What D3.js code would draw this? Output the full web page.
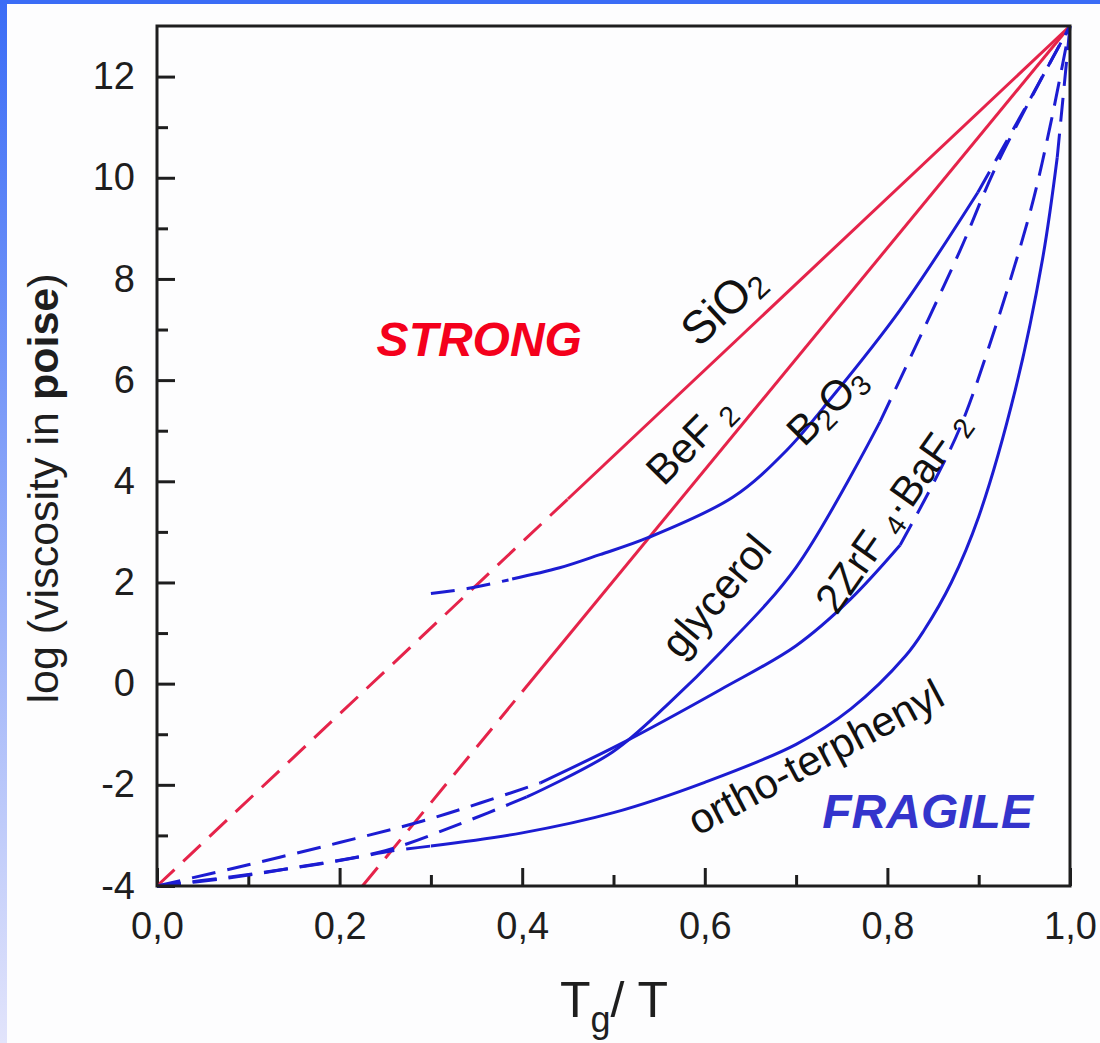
<!DOCTYPE html>
<html>
<head>
<meta charset="utf-8">
<script src="https://cdn.jsdelivr.net/npm/d3@7"></script>
<style>
  html, body { margin: 0; padding: 0; background: #ffffff; }
  svg { display: block; }
</style>
</head>
<body>
<svg id="chart" width="1100" height="1043"></svg>
<script>
// ---- tick values ----
const xMajorTicks = [0, 0.2, 0.4, 0.6, 0.8, 1.0];
const xMinorTicks = [0.1, 0.3, 0.5, 0.7, 0.9];
const yMajorTicks = [-4, -2, 0, 2, 4, 6, 8, 10, 12];
const yMinorTicks = [-3, -1, 1, 3, 5, 7, 9, 11];

// ---- strong liquids: straight Arrhenius lines ----
const sio2Extrap   = [[0, -4], [0.45, 3.65]];
const sio2Measured = [[0.45, 3.65], [1.0, 13]];
const bef2Extrap   = [[0.225, -4], [0.40, -0.16]];
const bef2Measured = [[0.40, -0.16], [1.0, 13]];

// ---- B2O3 ----
const b2o3Low      = [[0.30, 1.78], [0.34, 1.88], [0.385, 2.05]];
const b2o3Measured = [[0.389, 2.07], [0.441, 2.29], [0.485, 2.55], [0.537, 2.88], [0.631, 3.69],
                      [0.690, 4.62], [0.740, 5.68], [0.814, 7.39], [0.899, 9.71]];
const b2o3High     = [[0.899, 9.71], [0.95, 11.35], [1.0, 13]];

// ---- glycerol ----
const glycLow      = [[0, -4], [0.07, -3.86], [0.15, -3.64], [0.25, -3.3], [0.335, -2.75], [0.405, -2.24]];
const glycMeasured = [[0.405, -2.24], [0.499, -1.35], [0.56, -0.4], [0.62, 0.67], [0.70, 2.3], [0.792, 5.18]];
const glycHigh     = [[0.792, 5.18], [0.838, 6.94], [0.88, 8.58], [0.921, 10.3], [1.0, 13]];

// ---- 2ZrF4.BaF2 ----
const zrfLow       = [[0, -4], [0.10, -3.58], [0.20, -3.14], [0.29, -2.72], [0.354, -2.36], [0.42, -1.96]];
const zrfMeasured  = [[0.42, -1.96], [0.51, -1.17], [0.617, -0.12], [0.70, 0.75], [0.759, 1.66], [0.814, 2.74]];
const zrfHigh      = [[0.814, 2.74], [0.85, 3.95], [0.88, 5.08], [0.912, 6.7], [0.956, 9.3], [0.978, 11.0], [1.0, 13]];

// ---- ortho-terphenyl ----
const otpLow       = [[0, -4], [0.08, -3.82], [0.18, -3.56], [0.26, -3.3], [0.30, -3.21]];
const otpMeasured  = [[0.30, -3.21], [0.40, -2.95], [0.50, -2.55], [0.60, -1.95], [0.70, -1.2],
                      [0.76, -0.5], [0.82, 0.55], [0.84, 1.05], [0.87, 2.0], [0.90, 3.3],
                      [0.94, 5.8], [0.97, 8.4], [0.986, 10.4]];
const otpHigh      = [[0.986, 10.4], [1.0, 13]];

// ---- layout ----
const W = 1100, H = 1043;
const plot = { left: 157, right: 1070, top: 26, bottom: 886 };
const RED = "#e5234a", BLUE = "#1c1cd2", INK = "#1e1e1e";
const FONT = "'Liberation Sans', Arial, Helvetica, sans-serif";

const svg = d3.select("#chart");

// slide frame: blue bar on top, fading blue strip on the left
const defs = svg.append("defs");
const grad = defs.append("linearGradient").attr("id", "sideFade")
  .attr("x1", 0).attr("y1", 0).attr("x2", 0).attr("y2", 1);
grad.append("stop").attr("offset", "0%").attr("stop-color", "#3a6cf6");
grad.append("stop").attr("offset", "100%").attr("stop-color", "#e2e4fb");

svg.append("rect").attr("width", W).attr("height", H).attr("fill", "#fdfdfe");
svg.append("rect").attr("x", 0).attr("y", 0).attr("width", 7).attr("height", H).attr("fill", "url(#sideFade)");
svg.append("rect").attr("x", 0).attr("y", 0).attr("width", W).attr("height", 4).attr("fill", "#3a6cf6");

const x = d3.scaleLinear().domain([0, 1]).range([plot.left, plot.right]);
const y = d3.scaleLinear().domain([-4, 13]).range([plot.bottom, plot.top]);

// decimal comma on the x axis, plain hyphen for negatives on the y axis
const commaFmt = d3.formatLocale({ decimal: ",", thousands: ".", grouping: [3], currency: ["", ""], minus: "-" }).format(".1f");
const intFmt = d3.formatLocale({ decimal: ".", thousands: ",", grouping: [3], currency: ["", ""], minus: "-" }).format("d");

// ---- axes (ticks point inward) ----
const axX = svg.append("g").attr("transform", `translate(0,${plot.bottom})`);
axX.call(d3.axisBottom(x).tickValues(xMajorTicks).tickSizeInner(-18).tickSizeOuter(0)
  .tickPadding(26).tickFormat(commaFmt));
axX.append("g").call(d3.axisBottom(x).tickValues(xMinorTicks).tickSizeInner(-11).tickSizeOuter(0).tickFormat(""));

const axY = svg.append("g").attr("transform", `translate(${plot.left},0)`);
axY.call(d3.axisLeft(y).tickValues(yMajorTicks).tickSizeInner(-18).tickSizeOuter(0)
  .tickPadding(22).tickFormat(intFmt));
axY.append("g").call(d3.axisLeft(y).tickValues(yMinorTicks).tickSizeInner(-11).tickSizeOuter(0).tickFormat(""));

svg.selectAll(".domain").remove();
svg.selectAll(".tick line").attr("stroke", INK).attr("stroke-width", 3);
svg.selectAll(".tick text").attr("fill", INK).attr("font-family", FONT).attr("font-size", 38);
axX.selectAll(".tick text").attr("dy", "0.71em");

// ---- curves ----
const straight = d3.line().x(d => x(d[0])).y(d => y(d[1]));
const smooth = d3.line().x(d => x(d[0])).y(d => y(d[1])).curve(d3.curveCatmullRom.alpha(0.5));

const curveLayer = svg.append("g").attr("fill", "none").attr("stroke-linecap", "butt");
function draw(points, color, dashed, gen) {
  curveLayer.append("path")
    .attr("d", gen(points))
    .attr("stroke", color)
    .attr("stroke-width", 3)
    .attr("stroke-dasharray", dashed ? "24,12" : null);
}

draw(sio2Extrap, RED, true, straight);
draw(sio2Measured, RED, false, straight);
draw(bef2Extrap, RED, true, straight);
draw(bef2Measured, RED, false, straight);

draw(b2o3Low, BLUE, true, smooth);
draw(b2o3Measured, BLUE, false, smooth);
draw(b2o3High, BLUE, true, smooth);

draw(glycLow, BLUE, true, smooth);
draw(glycMeasured, BLUE, false, smooth);
draw(glycHigh, BLUE, true, smooth);

draw(zrfLow, BLUE, true, smooth);
draw(zrfMeasured, BLUE, false, smooth);
draw(zrfHigh, BLUE, true, smooth);

draw(otpLow, BLUE, true, smooth);
draw(otpMeasured, BLUE, false, smooth);
draw(otpHigh, BLUE, true, smooth);

// ---- plot frame ----
svg.append("rect")
  .attr("x", plot.left).attr("y", plot.top)
  .attr("width", plot.right - plot.left).attr("height", plot.bottom - plot.top)
  .attr("fill", "none").attr("stroke", INK).attr("stroke-width", 3);

// ---- rotated curve labels (text split into normal / subscript pieces) ----
function label(parts, cx, cy, angle, size) {
  const t = svg.append("text")
    .attr("transform", `translate(${x(cx)},${y(cy)}) rotate(${angle})`)
    .attr("text-anchor", "middle")
    .attr("y", 0.35 * size)
    .attr("font-family", FONT)
    .attr("font-size", size)
    .attr("fill", "#111");
  let shifted = 0;
  parts.forEach(([str, sub]) => {
    const want = sub ? 0.14 * size : 0;
    t.append("tspan")
      .attr("font-size", sub ? 0.68 * size : size)
      .attr("dy", want - shifted)
      .text(str);
    shifted = want;
  });
}

label([["SiO", false], ["2", true]], 0.619, 7.49, -43, 46);
label([["BeF ", false], ["2", true]], 0.584, 4.82, -45, 42);
label([["B", false], ["2", true], ["O", false], ["3", true]], 0.733, 5.51, -45, 42);
label([["glycerol", false]], 0.612, 1.74, -50, 42);
label([["2ZrF ", false], ["4", true], ["\u00b7BaF ", false], ["2", true]], 0.805, 3.40, -55, 42);
label([["ortho-terphenyl", false]], 0.721, -1.45, -28, 42);

// ---- regime labels ----
svg.append("text")
  .attr("x", x(0.353)).attr("y", y(6.80)).attr("dy", "0.35em")
  .attr("text-anchor", "middle")
  .attr("font-family", FONT).attr("font-size", 48)
  .attr("font-weight", "bold").attr("font-style", "italic")
  .attr("fill", "#f4001c").text("STRONG");

svg.append("text")
  .attr("x", x(0.844)).attr("y", y(-2.52)).attr("dy", "0.35em")
  .attr("text-anchor", "middle")
  .attr("font-family", FONT).attr("font-size", 48)
  .attr("font-weight", "bold").attr("font-style", "italic")
  .attr("fill", "#3434cc").text("FRAGILE");

// ---- axis titles ----
const xt = svg.append("text")
  .attr("x", 614).attr("y", 1017)
  .attr("text-anchor", "middle")
  .attr("font-family", FONT).attr("font-size", 50).attr("fill", INK);
xt.append("tspan").text("T");
xt.append("tspan").attr("font-size", 36).attr("dy", 15).text("g");
xt.append("tspan").attr("dy", -15).text("/ T");

const yt = svg.append("text")
  .attr("transform", `translate(58,${(262 + 715) / 2}) rotate(-90)`)
  .attr("text-anchor", "middle")
  .attr("font-family", FONT).attr("font-size", 43).attr("fill", INK);
yt.append("tspan").text("log (viscosity in ");
yt.append("tspan").attr("font-weight", "bold").text("poise");
yt.append("tspan").text(")");
</script>
</body>
</html>
